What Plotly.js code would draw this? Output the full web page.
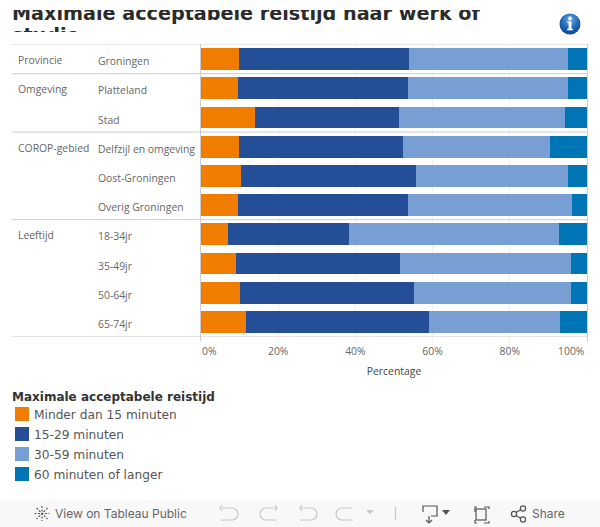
<!DOCTYPE html>
<html><head><meta charset="utf-8">
<script src="https://cdn.plot.ly/plotly-3.0.1.min.js"></script>
<style>
html,body{margin:0;padding:0;background:#fff;overflow:hidden}
#wrap{position:relative;width:600px;height:527px}
#chart{position:absolute;left:0;top:0;width:600px;height:527px}
.cover{position:absolute;left:0;width:600px;background:#fff}
#bar{position:absolute;left:0;top:500px;width:600px;height:27px;background:#f8f8f8}
#bar span{position:absolute;top:6px;font:12px Inter,Roboto,sans-serif;color:#666;line-height:16px}
svg.ov{position:absolute;left:0;top:0}
</style></head><body>
<div id="wrap">
<div id="chart"></div>
<div class="cover" style="top:0;height:10px"></div>
<div class="cover" style="top:32px;height:12px"></div>
<svg class="ov" width="600" height="44" viewBox="0 0 600 44">
<defs><radialGradient id="g" cx="50%" cy="30%" r="75%"><stop offset="0" stop-color="#6fa8dc"/><stop offset="0.55" stop-color="#1f66b5"/><stop offset="1" stop-color="#0b3f8c"/></radialGradient></defs>
<circle cx="570" cy="24" r="10.5" fill="url(#g)"/>
<circle cx="570" cy="18.5" r="1.9" fill="#fff"/>
<path d="M567.3 21.5h4.2v7.2h1.4v1.6h-5.7v-1.6h1.4v-5.6h-1.3z" fill="#fff"/>
</svg>
<div id="bar">
<svg class="ov" width="600" height="27" viewBox="0 500 600 27" fill="none" stroke-width="1.2">
<g stroke="#555"><path d="M42 506v15M34.5 513.5h15M36.5 508l11 11M47.5 508l-11 11" stroke-dasharray="2 1.5"/></g>
<g stroke="#c8c8c8"><path d="M222 508h10a6 6 0 0 1 0 12h-11M222 505l-2 3 2 3"/>
<path d="M276 508h-10a6 6 0 0 0 0 12h11M275 505l2 3-2 3"/>
<path d="M301 508h10a6 6 0 0 1 0 12h-11M302 505l-2 3 2 3"/>
<path d="M352 508h-10a6 6 0 0 0 0 12h11"/>
<path d="M395.5 507v13"/></g>
<path d="M366 510h8l-4 4z" fill="#c8c8c8"/>
<g stroke="#555"><path d="M423 512v-6h14v10h-6M429 516v6M426 520l3 3 3-3"/>
<path d="M475 512v-5h2m7 0h5v2m0 12v2h-5m-7 0h-2v-3"/><rect x="476" y="509" width="10" height="11"/>
<circle cx="514" cy="514" r="2.6"/><circle cx="523" cy="508.5" r="2.6"/><circle cx="523" cy="519.5" r="2.6"/><path d="M516 512.6l5-3M516 515.4l5 3"/></g>
<path d="M442 510h8l-4 5z" fill="#555"/>
</svg>
<span style="left:55px">View on Tableau Public</span>
<span style="left:532px">Share</span>
</div>
</div>
<script>
// Data
var categories = ["Groningen","Platteland","Stad","Delfzijl en omgeving","Oost-Groningen","Overig Groningen","18-34jr","35-49jr","50-64jr","65-74jr"];
var groupNames = ["Provincie","Omgeving","COROP-gebied","Leeftijd"];
var groupFirstRow = [0,1,3,6];
var seriesNames = ["Minder dan 15 minuten","15-29 minuten","30-59 minuten","60 minuten of langer"];
var minder15 = [9.8,9.6,14.0,9.8,10.3,9.6,7.0,9.0,10.1,11.6];
var min15_29 = [44.0,44.0,37.2,42.5,45.3,44.0,31.3,42.5,45.0,47.4];
var min30_59 = [41.2,41.4,43.0,38.0,39.4,42.4,54.5,44.3,40.7,33.9];
var min60plus = [5.0,5.0,5.8,9.7,5.0,4.0,7.2,4.2,4.2,7.1];
var colors = ["#F07D00","#244F96","#789FD3","#0075B5"];
var tickValues = [0,20,40,60,80,100];
var tickLabels = ["0%","20%","40%","60%","80%","100%"];
var legendTitle = "Maximale acceptabele reistijd";
var titleLines = ["Maximale acceptabele reistijd naar werk of","studie"];

var px = function(x){return x/600;}, py = function(y){return 1-y/527;};
var values = [minder15,min15_29,min30_59,min60plus];
var traces = values.map(function(v,i){
  return {type:"bar",orientation:"h",name:seriesNames[i],x:v,y:categories,
    marker:{color:colors[i],line:{width:0}},showlegend:false,hoverinfo:"x+y+name"};
});
var rowFont = {family:"'Open Sans',sans-serif",size:10.4,color:"#666"};
var ann = [];
categories.forEach(function(c){
  ann.push({text:c,xref:"paper",yref:"y",x:px(97),y:c,xanchor:"left",yanchor:"middle",showarrow:false,font:rowFont,yshift:-2,borderpad:0});
});
groupNames.forEach(function(g,i){
  ann.push({text:g,xref:"paper",yref:"y",x:px(17),y:categories[groupFirstRow[i]],xanchor:"left",yanchor:"middle",showarrow:false,font:rowFont,yshift:-1,borderpad:0});
});
var tickFont = {family:"'Open Sans',sans-serif",size:10.4,color:"#666"};
ann.push({text:tickLabels[0],xref:"paper",yref:"paper",x:px(201),y:py(351),xanchor:"left",yanchor:"middle",showarrow:false,font:tickFont,borderpad:0});
ann.push({text:tickLabels[5],xref:"paper",yref:"paper",x:px(586),y:py(351),xanchor:"right",yanchor:"middle",showarrow:false,font:tickFont,borderpad:0});
ann.push({text:"<b>"+legendTitle+"</b>",xref:"paper",yref:"paper",x:px(11),y:py(396.5),xanchor:"left",yanchor:"middle",showarrow:false,font:{family:"'DejaVu Sans',sans-serif",size:12,color:"#333"},borderpad:0});
var titleFont = {family:"'DejaVu Sans',sans-serif",size:19.2,color:"#2b2b2b"};
titleLines.forEach(function(t,i){
  ann.push({text:"<b>"+t+"</b>",xref:"paper",yref:"paper",x:px(11),y:py(i===0?1:22.5),xanchor:"left",yanchor:"top",align:"left",showarrow:false,font:titleFont,borderpad:0});
});
var shapes = [];
seriesNames.forEach(function(s,i){
  var yc = 414.5+20*i;
  ann.push({text:s,xref:"paper",yref:"paper",x:px(33),y:py(yc),xanchor:"left",yanchor:"middle",showarrow:false,font:{family:"'DejaVu Sans',sans-serif",size:12.2,color:"#555"},borderpad:0});
  shapes.push({type:"rect",xref:"paper",yref:"paper",x0:px(15),x1:px(29),y0:py(yc-7.5),y1:py(yc+6.5),fillcolor:colors[i],line:{width:0}});
});
[-0.5,0.5,2.5,5.5,9.5].forEach(function(b){
  shapes.push({type:"line",xref:"paper",yref:"y",x0:px(12),x1:px(587.5),y0:b,y1:b,line:{color:"#ccc",width:1},layer:"above"});
});
[200.5,587.5].forEach(function(x){
  shapes.push({type:"line",xref:"paper",yref:"paper",x0:px(x),x1:px(x),y0:py(44),y1:py(341),line:{color:"#ccc",width:1}});
});
var layout = {
  width:600,height:527,margin:{l:0,r:0,t:0,b:0,pad:0},paper_bgcolor:"#fff",plot_bgcolor:"#fff",
  barmode:"stack",bargap:0.25,showlegend:false,
  xaxis:{domain:[px(201),px(587)],range:[0,100],tickmode:"array",tickvals:tickValues,
    ticktext:tickLabels.map(function(t,i){return (i===0||i===5)?"":t;}),
    showgrid:true,gridcolor:"#f0f0f0",gridwidth:1,zeroline:false,showline:false,ticks:"outside",ticklen:5,tickcolor:"#f0f0f0",tickfont:tickFont,
    title:{text:"Percentage",font:{family:"'Open Sans',sans-serif",size:10.4,color:"#444"},standoff:10},automargin:false,fixedrange:true},
  yaxis:{domain:[py(336.5),py(44.5)],type:"category",categoryorder:"array",categoryarray:categories,autorange:false,range:[9.5,-0.5],showticklabels:false,showgrid:false,zeroline:false,showline:false,ticks:"",automargin:false,fixedrange:true},
  annotations:ann,shapes:shapes
};
Plotly.newPlot("chart",traces,layout,{displayModeBar:false,responsive:false});
</script>
</body></html>
